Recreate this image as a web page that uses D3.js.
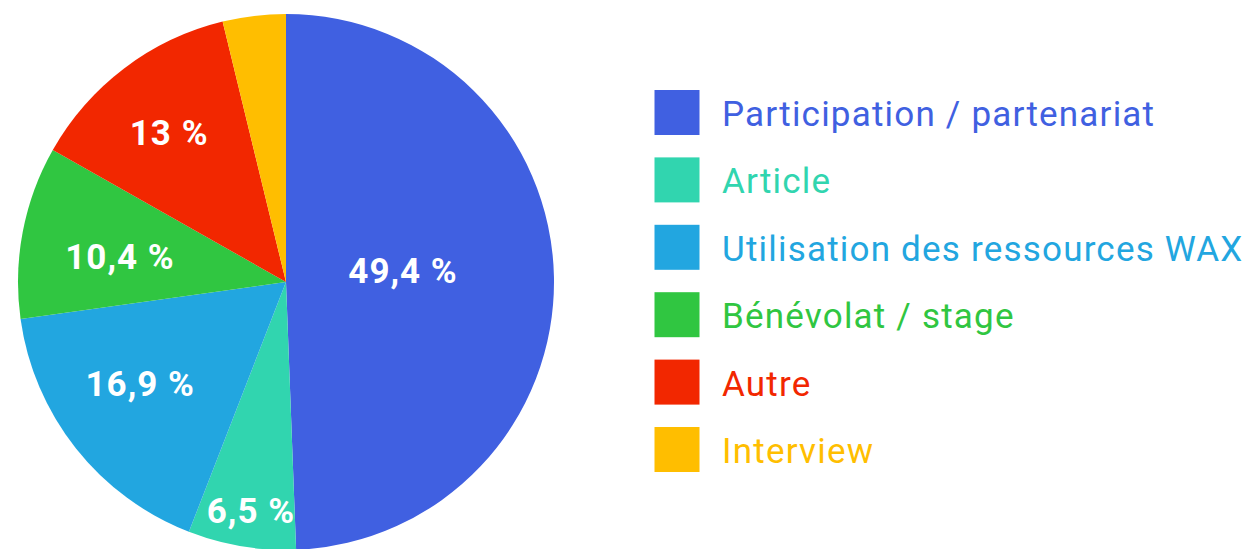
<!DOCTYPE html>
<html><head><meta charset="utf-8">
<script src="https://cdn.jsdelivr.net/npm/d3@7"></script>
<style>html,body{margin:0;padding:0;background:#fff;}svg{display:block;}</style>
</head><body>
<svg id="chart" width="1249" height="549"></svg>
<script>
const categories = ["Participation / partenariat", "Article", "Utilisation des ressources WAX", "Bénévolat / stage", "Autre", "Interview"];
const values = [49.4, 6.5, 16.9, 10.4, 13, 3.8];
const labels = ["49,4 %", "6,5 %", "16,9 %", "10,4 %", "13 %", ""];
const colors = ["#4060E1", "#31D5AF", "#22A6E0", "#30C641", "#F22700", "#FFBE00"];
// layout tweaks for label placement (radius fraction, angle nudge in degrees)
const labelRadius = [0.439, 0.861, 0.662, 0.627, 0.707, 0.7];
const labelNudge = [-4.8, -0.8, 3.6, -1.9, -1.0, 0];

const svg = d3.select("#chart");
const cx = 286, cy = 282, R = 268;
const g = svg.append("g").attr("transform", `translate(${cx},${cy})`);
const pie = d3.pie().sort(null).value(d => d.v);
const data = pie(values.map((v, i) => ({v, i})));
const arc = d3.arc().innerRadius(0).outerRadius(R);
g.selectAll("path").data(data).join("path")
  .attr("d", arc).attr("fill", d => colors[d.data.i]);

g.selectAll("text.lbl").data(data.filter(d => labels[d.data.i])).join("text")
  .attr("class", "lbl")
  .each(function(d) {
    const i = d.data.i;
    const a = (d.startAngle + d.endAngle) / 2 + labelNudge[i] * Math.PI / 180;
    const r = labelRadius[i] * R;
    d3.select(this).attr("x", r * Math.sin(a)).attr("y", -r * Math.cos(a));
  })
  .attr("dy", "0.36em")
  .attr("text-anchor", "middle")
  .attr("fill", "#fff")
  .attr("font-family", "Roboto, sans-serif")
  .attr("font-weight", "bold")
  .attr("font-size", 35)
  .attr("letter-spacing", 1)
  .text(d => labels[d.data.i]);

const lg = svg.append("g").attr("transform", "translate(654.5,90)");
const step = 67.4;
const items = lg.selectAll("g").data(categories).join("g")
  .attr("transform", (d, i) => `translate(0,${i * step})`);
items.append("rect").attr("width", 45).attr("height", 45).attr("fill", (d, i) => colors[i]);
items.append("text").attr("x", 67.5).attr("y", 36)
  .attr("font-family", "Roboto, sans-serif").attr("font-size", 35)
  .attr("letter-spacing", 1.2)
  .attr("fill", (d, i) => colors[i]).text(d => d);
</script>
</body></html>
